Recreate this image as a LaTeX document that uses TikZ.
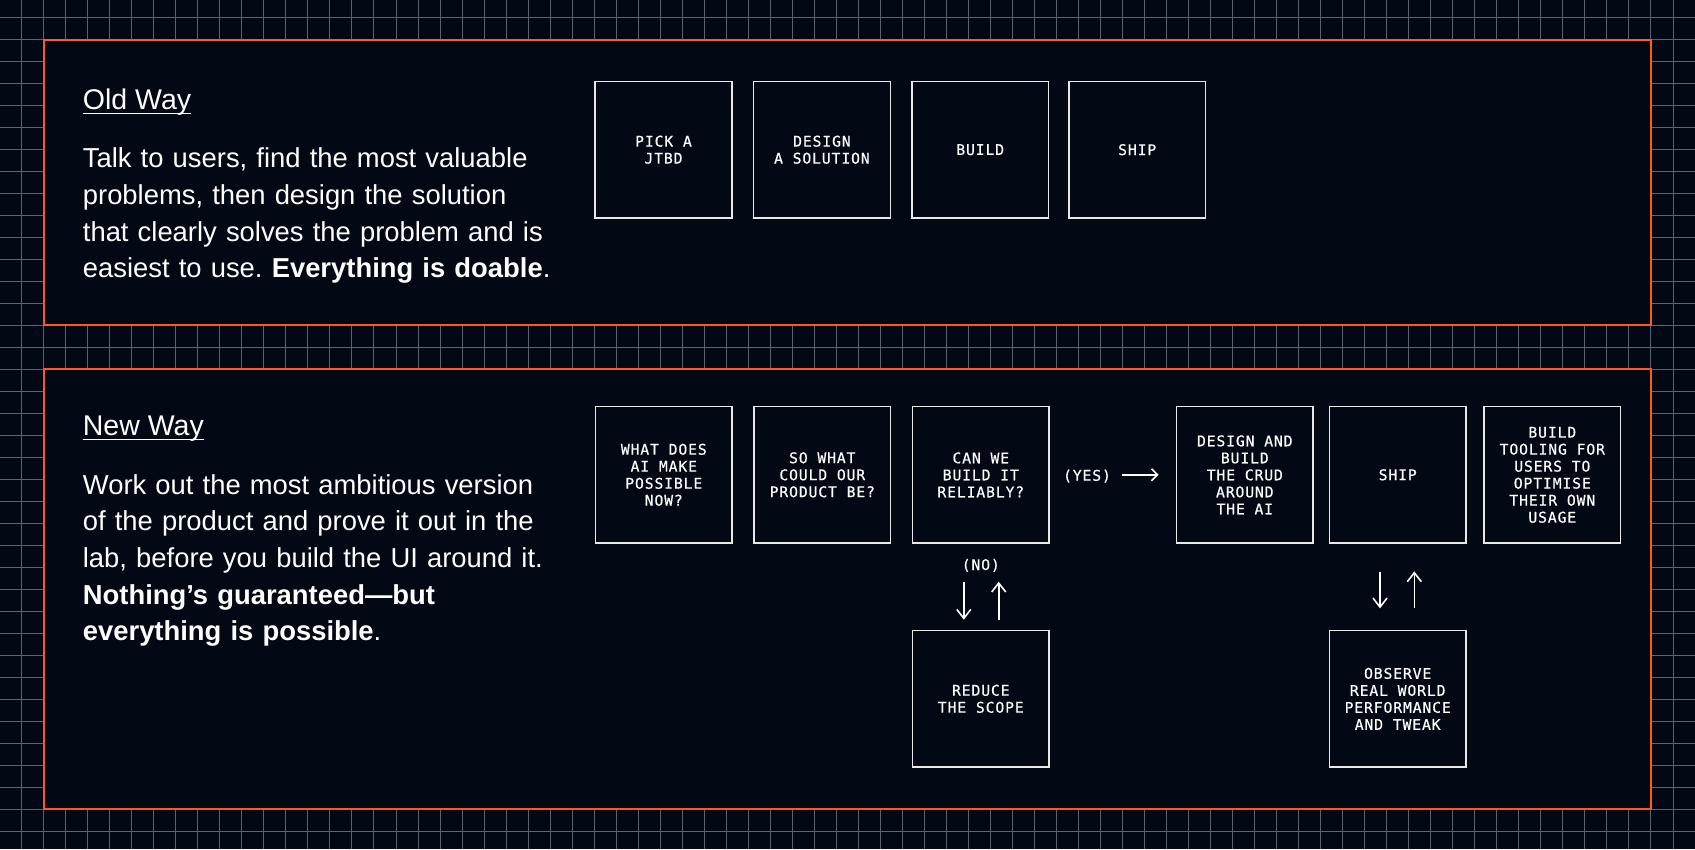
\documentclass[tikz,border=0pt]{standalone}
\usepackage{fontspec}
\setmainfont{Liberation Sans}
\newfontfamily\boxfont[LetterSpace=6,FakeBold=0.5]{DejaVu Sans Mono}
\usetikzlibrary{arrows.meta,calc}
\definecolor{bg}{HTML}{020814}
\definecolor{gridc}{HTML}{5A6170}
\definecolor{accent}{HTML}{FF5A1A}
\definecolor{boxline}{HTML}{E8E8E8}
\frenchspacing
\begin{document}
\frenchspacing
\begin{tikzpicture}[x=1pt,y=-1pt,
  stepbox/.style={draw=boxline, line width=1.5pt, minimum width=136.8pt, minimum height=136.3pt,
    inner sep=0pt, align=center, text=white, font=\boxfont\fontsize{14.7}{17}\selectfont},
  panel/.style={fill=bg, draw=accent, line width=2pt},
  title/.style={anchor=base west, inner sep=0pt, text=white, font=\fontsize{28.5}{34}\selectfont},
  body/.style={anchor=north west, inner sep=0pt, text=white, align=left, text width=520pt,
    font=\fontsize{27.4}{36.7}\selectfont},
  flowv/.style={draw=white, line width=1.6pt, -{Straight Barb[length=9pt,width=14pt]}},
  flowh/.style={draw=white, line width=1.6pt, -{Straight Barb[length=6pt,width=12pt]}},
  lbl/.style={text=white, inner sep=0pt, anchor=base, font=\boxfont\fontsize{14.7}{17}\selectfont},
  uline/.style={draw=white, line width=1.3pt}
]
\useasboundingbox (0,0) rectangle (1695,849);
\fill[bg] (0,0) rectangle (1695,849);
% grid
\foreach \i in {0,...,77} \draw[gridc, line width=1pt] (-0.3+22.017*\i,0) -- (-0.3+22.017*\i,849);
\foreach \j in {0,...,37} \draw[gridc, line width=1pt] (0,17.3+22*\j) -- (1695,17.3+22*\j);
% panels
\draw[panel] (43.7,39.5) rectangle (1651,324.5);
\draw[panel] (43.7,369.3) rectangle (1651,809.3);

% Old way text
\node[title] (oldt) at (82.7,109.3) {Old Way};
\draw[uline] ($(oldt.base west)+(0,4)$) -- ($(oldt.base east)+(0,4)$);
\node[body] (oldb) at (82.7,142.0) {\strut Talk to users, find the most valuable\\
problems, then design the solution\\
that clearly solves the problem and is\\
easiest to use. \textbf{Everything is doable}.};

% New way text
\node[title] (newt) at (82.7,435.5) {New Way};
\draw[uline] ($(newt.base west)+(0,4)$) -- ($(newt.base east)+(0,4)$);
\node[body] (newb) at (82.7,468.3) {\strut Work out the most ambitious version\\
of the product and prove it out in the\\
lab, before you build the UI around it.\\
\textbf{Nothing’s guaranteed—but}\\
\textbf{everything is possible}.};

% Old way boxes
\node[stepbox] (o1) at (663.5,149.7) {PICK A\\JTBD};
\node[stepbox] (o2) at (821.9,149.7) {DESIGN\\A SOLUTION};
\node[stepbox] (o3) at (980.2,149.7) {BUILD};
\node[stepbox] (o4) at (1137.2,149.7) {SHIP};

% New way boxes
\node[stepbox] (n1) at (663.8,474.8) {WHAT DOES\\AI MAKE\\POSSIBLE\\NOW?};
\node[stepbox] (n2) at (822.3,474.8) {SO WHAT\\COULD OUR\\PRODUCT BE?};
\node[stepbox] (n3) at (980.8,474.8) {CAN WE\\BUILD IT\\RELIABLY?};
\node[stepbox] (n4) at (1244.8,474.8) {DESIGN AND\\BUILD\\THE CRUD\\AROUND\\THE AI};
\node[stepbox] (n5) at (1397.7,474.8) {SHIP};
\node[stepbox] (n6) at (1552.3,474.8) {BUILD\\TOOLING FOR\\USERS TO\\OPTIMISE\\THEIR OWN\\USAGE};
\node[stepbox] (n7) at (980.8,698.8) {REDUCE\\THE SCOPE};
\node[stepbox] (n8) at (1397.7,698.8) {OBSERVE\\REAL WORLD\\PERFORMANCE\\AND TWEAK};

% YES arrow
\node[lbl] (yes) at (1087,480.7) {(YES)};
\coordinate (ya) at ($(n4.west)+(-54,0)$);
\coordinate (yb) at ($(n4.west)+(-17,0)$);
\draw[flowh] (ya) -- (yb);

% NO loop
\node[lbl] (no) at ($(n3.south)+(0,26.3)$) {(NO)};
\coordinate (d1s) at ($(n3.south)+(-17,38.7)$);
\coordinate (d1e) at ($(n3.south)+(-17,76)$);
\coordinate (u1s) at ($(n3.south)+(17.9,76)$);
\coordinate (u1e) at ($(n3.south)+(17.9,38)$);
\draw[flowv] (d1s) -- (d1e);
\draw[flowv] (u1s) -- (u1e);

% ship / observe loop
\coordinate (d2s) at ($(n5.south)+(-17.7,28.7)$);
\coordinate (d2e) at ($(n5.south)+(-17.7,64.7)$);
\coordinate (u2s) at ($(n5.south)+(16.6,64.2)$);
\coordinate (u2e) at ($(n5.south)+(16.6,27.7)$);
\draw[flowv] (d2s) -- (d2e);
\draw[flowv] (u2s) -- (u2e);
\end{tikzpicture}
\end{document}
